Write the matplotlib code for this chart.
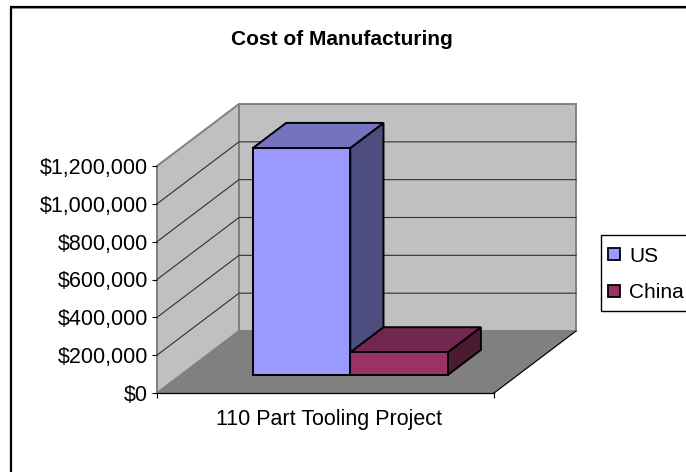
import matplotlib as mpl
mpl.use('Agg')
import matplotlib.pyplot as plt
from matplotlib.patches import Polygon, Rectangle
from matplotlib.lines import Line2D

plt.rcParams['font.family'] = ['Liberation Sans', 'DejaVu Sans']

title = 'Cost of Manufacturing'
category = '110 Part Tooling Project'
series = ['US', 'China']
values = [1200000, 120000]
tick_values = [0, 200000, 400000, 600000, 800000, 1000000, 1200000]
tick_labels = ['$0', '$200,000', '$400,000', '$600,000', '$800,000', '$1,000,000', '$1,200,000']

W, H = 686, 472
fig = plt.figure(figsize=(W / 100, H / 100), dpi=100)

# outer frame only has a top and left edge, rest is cropped off
fig.add_artist(Line2D([9.6 / W, 9.6 / W], [0, 1 - 8 / H], color='#a0a0a0', lw=0.8, zorder=-2))
fig.add_artist(Line2D([10 / W, 1], [1 - 8.3 / H, 1 - 8.3 / H], color='#a0a0a0', lw=0.8, zorder=-2))
fig.add_artist(Line2D([10.8 / W, 10.8 / W], [0, 1 - 7 / H], color='black', lw=1.6, zorder=-1,
                      solid_capstyle='butt'))
fig.add_artist(Line2D([10 / W, 1], [1 - 7 / H, 1 - 7 / H], color='black', lw=1.6, zorder=-1,
                      solid_capstyle='butt'))

# axes covers the front plane of the box
left, right, top, bottom = 157, 494, 166, 393
ax = fig.add_axes([left / W, 1 - bottom / H, (right - left) / W, (bottom - top) / H])
ax.set_xlim(0, 1)
ax.set_ylim(0, 1200000)
ax.patch.set_visible(False)

# depth offset of the back wall, in data units
dx = 82 / (right - left)
dy = 62 / (bottom - top) * 1200000


def proj(x, y, d):
    return (x + d * dx, y + d * dy)


def face(points, fc, ec, lw, z):
    ax.add_patch(Polygon([proj(*p) for p in points], closed=True, fc=fc, ec=ec, lw=lw,
                         zorder=z, clip_on=False, joinstyle='miter'))


ymax = tick_values[-1]
wall = '#c0c0c0'
edge = '#808080'
# floor, side wall, back wall
face([(0, 0, 0), (1, 0, 0), (1, 0, 1), (0, 0, 1)], '#808080', '#808080', 0.7, 1)
face([(0, 0, 0), (0, ymax, 0), (0, ymax, 1), (0, 0, 1)], wall, edge, 1.4, 1)
face([(0, 0, 1), (0, ymax, 1), (1, ymax, 1), (1, 0, 1)], wall, edge, 1.4, 1)

# gridlines
for t in tick_values[1:-1]:
    ax.plot(*zip(proj(0, t, 0), proj(0, t, 1), proj(1, t, 1)), color='#303030', lw=0.8,
            zorder=2, clip_on=False)
ax.plot(*zip(proj(1, 0, 0), proj(1, 0, 1)), color='black', lw=0.8, zorder=2, clip_on=False)

# bars
colors = [('#9999ff', '#7373bf', '#4d4d80'), ('#993366', '#732650', '#4d1a33')]
gap = 0.214
bar_w = 0.289
d0, d1 = 0.29, 0.695
for i, (v, c) in enumerate(zip(values, colors)):
    x0 = gap + i * bar_w
    x1 = x0 + bar_w
    z = 3 + i
    face([(x1, 0, d0), (x1, v, d0), (x1, v, d1), (x1, 0, d1)], c[2], 'black', 1.4, z)
    face([(x0, v, d0), (x1, v, d0), (x1, v, d1), (x0, v, d1)], c[1], 'black', 1.4, z)
    face([(x0, 0, d0), (x1, 0, d0), (x1, v, d0), (x0, v, d0)], c[0], 'black', 1.4, z)

# axes
for s in ['top', 'right']:
    ax.spines[s].set_visible(False)
ax.spines['bottom'].set_linewidth(0.9)
ax.spines['left'].set_visible(False)
ax.set_yticks(tick_values)
ax.set_yticklabels(tick_labels, fontsize=15.5)
ax.tick_params(axis='y', length=3.6, width=0.8, pad=3, color='black')
ax.set_xticks([0, 1])
ax.set_xticklabels(['', ''])
ax.tick_params(axis='x', length=3.6, width=0.8, direction='out')
ax.text(328.5 / W, 1 - 419 / H, category, transform=fig.transFigure, ha='center', va='center',
        fontsize=15.5)

fig.text(342 / W, 1 - 39.5 / H, title, ha='center', va='center', fontsize=15, fontweight='bold')

# legend box runs off the right edge of the chart
fig.add_artist(Rectangle((601 / W, 1 - 311 / H), 90 / W, 76 / H, transform=fig.transFigure,
                         fc='white', ec='black', lw=1))
handles = [Line2D([], [], marker='s', ls='none', ms=8.5, mfc=c[0], mec='black', mew=1.3) for c in colors]
fig.legend(handles, series, loc='center left', bbox_to_anchor=(604 / W, 1 - 274.5 / H), frameon=False,
           fontsize=15, handlelength=1.0, handletextpad=0.2, labelspacing=0.85, borderpad=0, borderaxespad=0)

fig.savefig('out.png', dpi=100)
